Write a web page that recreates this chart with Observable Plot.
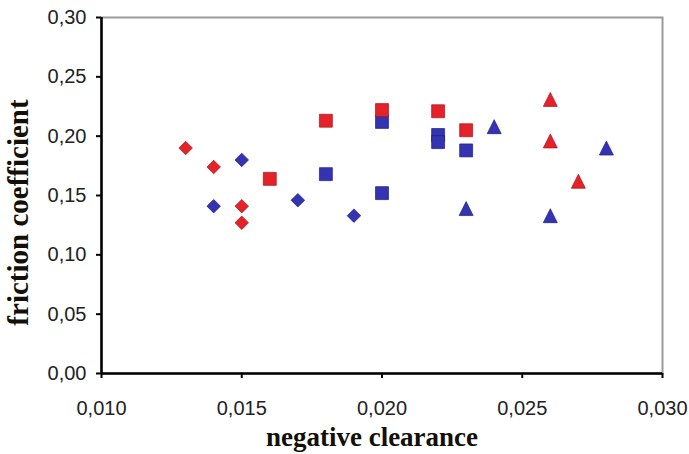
<!DOCTYPE html>
<html>
<head>
<meta charset="utf-8">
<script src="https://cdn.jsdelivr.net/npm/d3@7"></script>
<script src="https://cdn.jsdelivr.net/npm/@observablehq/plot@0.6"></script>
<style>
  html, body { margin: 0; padding: 0; background: #fff; }
</style>
</head>
<body>
<div id="chart"></div>
<script>
// ---- data ----
const xTicks = [0.010, 0.015, 0.020, 0.025, 0.030];
const yTicks = [0, 0.05, 0.10, 0.15, 0.20, 0.25, 0.30];

const xTitle = "negative clearance";
const yTitle = "friction coefficient";

const redDiamondX = [0.013, 0.014, 0.015, 0.015];
const redDiamondY = [0.190, 0.174, 0.141, 0.127];
const blueDiamondX = [0.014, 0.015, 0.017, 0.019];
const blueDiamondY = [0.141, 0.180, 0.146, 0.133];

const redSquareX = [0.016, 0.018, 0.020, 0.022, 0.023];
const redSquareY = [0.164, 0.213, 0.222, 0.221, 0.205];
const blueSquareX = [0.018, 0.020, 0.020, 0.022, 0.022, 0.023];
const blueSquareY = [0.168, 0.212, 0.152, 0.201, 0.195, 0.188];

const redTriangleX = [0.026, 0.026, 0.027];
const redTriangleY = [0.231, 0.196, 0.162];
const blueTriangleX = [0.023, 0.024, 0.026, 0.028];
const blueTriangleY = [0.139, 0.208, 0.133, 0.190];

// ---- styles ----
const RED = "#e3222a", RED_DARK = "#a8141a";
const BLUE = "#3434b2", BLUE_DARK = "#1e1e80";

const rows = (xs, ys) => xs.map((x, i) => ({x, y: ys[i]}));

// triangle as tall as it is wide, centred on its bounding box
const triangleSym = {
  draw(ctx, size) {
    const h = Math.sqrt(size) / 2;
    ctx.moveTo(0, -h);
    ctx.lineTo(h, h);
    ctx.lineTo(-h, h);
    ctx.closePath();
  }
};

const fmt = (digits) => (d) => d.toFixed(digits).replace(".", ",");

const dotOpts = (symbol, r, fill, stroke) => ({x: "x", y: "y", symbol, r, fill, stroke, strokeWidth: 0.7});

const titleFont = "'Liberation Serif', 'Times New Roman', serif";

const chart = Plot.plot({
  width: 689,
  height: 454,
  marginLeft: 101,
  marginRight: 27,
  marginTop: 17,
  marginBottom: 81,
  x: {domain: [0.010, 0.030], label: null},
  y: {domain: [0, 0.30], label: null},
  style: {
    fontFamily: "'Liberation Sans', Arial, sans-serif",
    fontSize: "20px",
    color: "#222",
    background: "white"
  },
  marks: [
    Plot.frame({stroke: "#9a9a9a", strokeWidth: 2}),
    Plot.ruleX([0.010], {stroke: "#000", strokeWidth: 2.5}),
    Plot.ruleY([0], {stroke: "#000", strokeWidth: 2.5}),
    Plot.axisX({ticks: xTicks, tickFormat: fmt(3), tickSize: 5, tickPadding: 22, strokeWidth: 2, stroke: "#000", label: null, fontSize: 20}),
    Plot.axisY({ticks: yTicks, tickFormat: fmt(2), tickSize: 5, tickPadding: 10, strokeWidth: 2, stroke: "#000", label: null, fontSize: 20}),

    Plot.dot(rows(blueDiamondX, blueDiamondY), dotOpts("diamond2", 6.1, BLUE, BLUE_DARK)),
    Plot.dot(rows(redDiamondX, redDiamondY), dotOpts("diamond2", 6.1, RED, RED_DARK)),
    Plot.dot(rows(blueSquareX, blueSquareY), dotOpts("square", 7.3, BLUE, BLUE_DARK)),
    Plot.dot(rows(redSquareX, redSquareY), dotOpts("square", 7.3, RED, RED_DARK)),
    Plot.dot(rows(blueTriangleX, blueTriangleY), dotOpts(triangleSym, 7.9, BLUE, BLUE_DARK)),
    Plot.dot(rows(redTriangleX, redTriangleY), dotOpts(triangleSym, 7.9, RED, RED_DARK)),

    Plot.text([xTitle], {
      frameAnchor: "bottom", textAnchor: "middle", lineAnchor: "middle",
      dx: -10, dy: 64,
      fontFamily: titleFont, fontWeight: "bold", fontSize: 27, fill: "#141008"
    }),
    Plot.text([yTitle], {
      frameAnchor: "left", textAnchor: "middle", lineAnchor: "middle",
      rotate: -90, dx: -83, dy: 17,
      fontFamily: titleFont, fontWeight: "bold", fontSize: 29, fill: "#141008"
    })
  ]
});

document.getElementById("chart").appendChild(chart);
</script>
</body>
</html>
